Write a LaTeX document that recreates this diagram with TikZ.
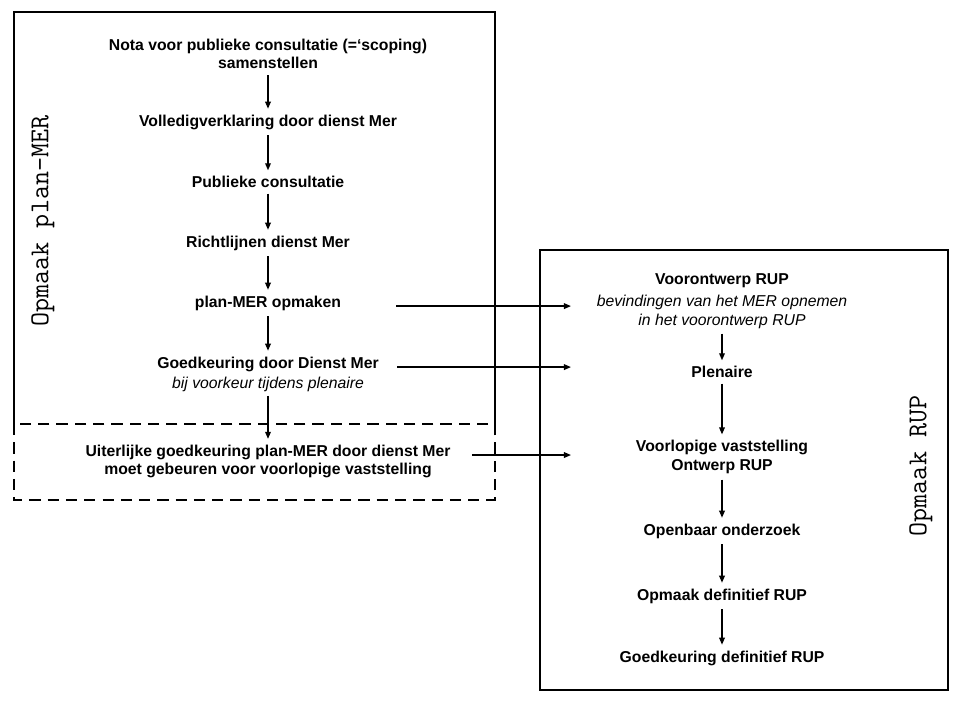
\documentclass[tikz,border=0pt]{standalone}
\usepackage{fontspec}
\setmainfont{Liberation Sans}
\usetikzlibrary{arrows.meta}

\begin{document}
\begin{tikzpicture}[x=0.025cm,y=-0.025cm,
    txt/.style={font=\fontsize{11.2}{13.3}\selectfont\bfseries,align=center,inner sep=4pt},
    sub/.style={font=\fontsize{11.2}{13.9}\selectfont\itshape,align=center,inner sep=3pt},
    arr/.style={-{Triangle[length=5pt,width=4pt]},line width=1pt},
    frame/.style={line width=1.6pt},
    lbl/.style={font=\fontsize{19.4}{22}\selectfont\ttfamily,rotate=90}]
    \useasboundingbox (0,0) rectangle (960,720);
    \draw[frame] (14,424) -- (14,12) -- (495,12) -- (495,424);
    \draw[frame,dash pattern=on 8pt off 5pt] (14,424) rectangle (495,500);
    \draw[frame] (540,250) rectangle (948,690);
    \node[lbl] (mer) at (43,221) {Opmaak plan-MER};
    \node[lbl] (rup) at (921,466) {Opmaak RUP};

    \node[txt] (nota) at (268,54) {Nota voor publieke consultatie (=‘scoping)\\samenstellen};
    \node[txt] (vol) at (268,122) {Volledigverklaring door dienst Mer};
    \node[txt] (pub) at (268,182) {Publieke consultatie};
    \node[txt] (richt) at (268,243) {Richtlijnen dienst Mer};
    \node[txt] (pm) at (268,303) {plan-MER opmaken};
    \node[txt] (gk) at (268,364) {Goedkeuring door Dienst Mer};
    \node[sub] (gkn) at (268,384) {bij voorkeur tijdens plenaire};
    \node[txt] (uit) at (268,461.5) {Uiterlijke goedkeuring plan-MER door dienst Mer\\moet gebeuren voor voorlopige vaststelling};

    \node[txt] (vo) at (722,281) {Voorontwerp RUP};
    \node[sub] (von) at (722,312) {bevindingen van het MER opnemen\\in het voorontwerp RUP};
    \node[txt] (pl) at (722,372) {Plenaire};
    \node[txt] (vv) at (722,457) {Voorlopige vaststelling\\Ontwerp RUP};
    \node[txt] (oo) at (722,531) {Openbaar onderzoek};
    \node[txt] (od) at (722,596) {Opmaak definitief RUP};
    \node[txt] (gd) at (722,658) {Goedkeuring definitief RUP};

    \draw[arr] (nota) -- (vol);
    \draw[arr] (vol) -- (pub);
    \draw[arr] (pub) -- (richt);
    \draw[arr] (richt) -- (pm);
    \draw[arr] (pm) -- (gk);
    \draw[arr] (gkn) -- (uit);
    \draw[arr] (von) -- (pl);
    \draw[arr] (pl) -- (vv);
    \draw[arr] (vv) -- (oo);
    \draw[arr] (oo) -- (od);
    \draw[arr] (od) -- (gd);

    \coordinate (rin) at (571,0);
    \path ([xshift=35pt,yshift=-2.2pt]pm.east) coordinate (p0);
    \path ([xshift=9pt,yshift=-2.2pt]gk.east) coordinate (g0);
    \path ([xshift=11pt,yshift=4.6pt]uit.east) coordinate (u0);
    \draw[arr] (p0) -- (p0 -| rin);
    \draw[arr] (g0) -- (g0 -| rin);
    \draw[arr] (u0) -- (u0 -| rin);
\end{tikzpicture}
\end{document}
